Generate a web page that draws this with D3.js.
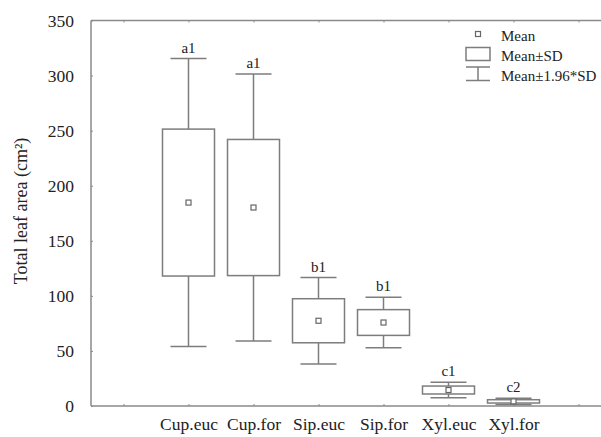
<!DOCTYPE html>
<html>
<head>
<meta charset="utf-8">
<script src="https://cdn.jsdelivr.net/npm/d3@7"></script>
<style>
  body { margin: 0; background: #fff; }
  text { font-family: "Liberation Serif", "DejaVu Serif", serif; fill: #222; }
</style>
</head>
<body>
<div class="chart"></div>
<script>
// data
var categories = ["Cup.euc", "Cup.for", "Sip.euc", "Sip.for", "Xyl.euc", "Xyl.for"];
var means = [184.7, 180.2, 77.4, 75.8, 14.5, 4.2];
var sds = [66.7, 61.8, 20.0, 11.7, 3.6, 1.5];
var letters = ["a1", "a1", "b1", "b1", "c1", "c2"];
var yTicks = [0, 50, 100, 150, 200, 250, 300, 350];

// sizes
var chartW = 601, chartH = 437;
var plotLeft = 91, plotTop = 20.5, plotBottom = 406;
var lineColor = "#7d7d7d";
var axisColor = "#8a8a8a";

var svg = d3.select(".chart")
    .append("svg")
    .attr("width", chartW)
    .attr("height", chartH);

// category positions 1..6, extra ticks at 0 and 7
var x = d3.scaleLinear()
    .domain([-0.5, 7.5])
    .range([plotLeft, plotLeft + 520]);

var y = d3.scaleLinear()
    .domain([0, 350])
    .range([plotBottom, plotTop]);

// frame lines (right side runs off the picture)
svg.append("line")
    .attr("x1", plotLeft).attr("x2", chartW)
    .attr("y1", plotTop).attr("y2", plotTop)
    .attr("stroke", axisColor).attr("stroke-width", 1.5);
svg.append("line")
    .attr("x1", plotLeft).attr("x2", chartW)
    .attr("y1", plotBottom).attr("y2", plotBottom)
    .attr("stroke", axisColor).attr("stroke-width", 1.5);
svg.append("line")
    .attr("x1", plotLeft).attr("x2", plotLeft)
    .attr("y1", plotTop).attr("y2", plotBottom)
    .attr("stroke", axisColor).attr("stroke-width", 1.5);

// y axis: inward ticks, labels on the left
var yAxis = d3.axisLeft(y)
    .tickValues(yTicks)
    .tickSizeInner(-2)
    .tickSizeOuter(0)
    .tickPadding(17);

var gy = svg.append("g")
    .attr("transform", "translate(" + plotLeft + ",0)")
    .call(yAxis);
gy.select(".domain").remove();
gy.selectAll(".tick line").attr("stroke", axisColor);
gy.selectAll(".tick text")
    .attr("font-size", 17.5)
    .attr("font-family", "Liberation Serif")
    .attr("fill", "#222");

// x axis bottom: inward ticks at 0..7, labels for categories
var xAxis = d3.axisBottom(x)
    .tickValues(d3.range(0, 8))
    .tickSizeInner(-2)
    .tickSizeOuter(0)
    .tickPadding(12)
    .tickFormat(function(d) { return categories[d - 1] || ""; });

var gx = svg.append("g")
    .attr("transform", "translate(0," + plotBottom + ")")
    .call(xAxis);
gx.select(".domain").remove();
gx.selectAll(".tick line").attr("stroke", axisColor);
gx.selectAll(".tick text")
    .attr("font-size", 17.5)
    .attr("font-family", "Liberation Serif")
    .attr("fill", "#222");

// top ticks
var gt = svg.append("g")
    .attr("transform", "translate(0," + plotTop + ")")
    .call(d3.axisTop(x).tickValues(d3.range(0, 8)).tickSizeInner(-2).tickSizeOuter(0).tickFormat(""));
gt.select(".domain").remove();
gt.selectAll(".tick line").attr("stroke", axisColor);

// y title
svg.append("text")
    .attr("transform", "translate(27,211) rotate(-90)")
    .attr("text-anchor", "middle")
    .attr("font-size", 18)
    .text("Total leaf area (cm²)");

var boxW = 52, capW = 36;

var groups = svg.selectAll(".grp")
    .data(categories)
    .enter()
    .append("g")
    .attr("class", "grp");

// whiskers
groups.append("line")
    .attr("x1", function(d, i) { return x(i + 1); })
    .attr("x2", function(d, i) { return x(i + 1); })
    .attr("y1", function(d, i) { return y(means[i] + 1.96 * sds[i]); })
    .attr("y2", function(d, i) { return y(means[i] - 1.96 * sds[i]); })
    .attr("stroke", lineColor).attr("stroke-width", 1.5);

// caps
[1, -1].forEach(function(s) {
    groups.append("line")
        .attr("x1", function(d, i) { return x(i + 1) - capW / 2; })
        .attr("x2", function(d, i) { return x(i + 1) + capW / 2; })
        .attr("y1", function(d, i) { return y(means[i] + s * 1.96 * sds[i]); })
        .attr("y2", function(d, i) { return y(means[i] + s * 1.96 * sds[i]); })
        .attr("stroke", lineColor).attr("stroke-width", 1.5);
});

// boxes mean +- SD
groups.append("rect")
    .attr("x", function(d, i) { return x(i + 1) - boxW / 2; })
    .attr("width", boxW)
    .attr("y", function(d, i) { return y(means[i] + sds[i]); })
    .attr("height", function(d, i) { return y(means[i] - sds[i]) - y(means[i] + sds[i]); })
    .attr("fill", "#fff")
    .attr("stroke", lineColor).attr("stroke-width", 1.5);

// mean markers
groups.append("rect")
    .attr("x", function(d, i) { return x(i + 1) - 2.5; })
    .attr("y", function(d, i) { return y(means[i]) - 2.5; })
    .attr("width", 5).attr("height", 5)
    .attr("fill", "#fff")
    .attr("stroke", "#666").attr("stroke-width", 1.2);

// group letters
groups.append("text")
    .attr("x", function(d, i) { return x(i + 1); })
    .attr("y", function(d, i) { return y(means[i] + 1.96 * sds[i]) - 6; })
    .attr("text-anchor", "middle")
    .attr("font-size", 15)
    .text(function(d, i) { return letters[i]; });

// legend
var lg = svg.append("g").attr("transform", "translate(478,0)");
lg.append("rect")
    .attr("x", -2.5).attr("y", 31.5).attr("width", 5).attr("height", 5)
    .attr("fill", "#fff").attr("stroke", "#666").attr("stroke-width", 1.2);
lg.append("rect")
    .attr("x", -12).attr("y", 47.5).attr("width", 24).attr("height", 13)
    .attr("fill", "#fff").attr("stroke", lineColor).attr("stroke-width", 1.5);
lg.append("line").attr("x1", -12).attr("x2", 12).attr("y1", 67).attr("y2", 67)
    .attr("stroke", lineColor).attr("stroke-width", 1.5);
lg.append("line").attr("x1", -12).attr("x2", 12).attr("y1", 80.5).attr("y2", 80.5)
    .attr("stroke", lineColor).attr("stroke-width", 1.5);
lg.append("line").attr("x1", 0).attr("x2", 0).attr("y1", 67).attr("y2", 80.5)
    .attr("stroke", lineColor).attr("stroke-width", 1.5);

var legendText = ["Mean", "Mean±SD", "Mean±1.96*SD"];
lg.selectAll(".lt")
    .data(legendText)
    .enter()
    .append("text")
    .attr("x", 23)
    .attr("y", function(d, i) { return 41 + i * 20; })
    .attr("font-size", 15)
    .text(function(d) { return d; });
</script>
</body>
</html>
